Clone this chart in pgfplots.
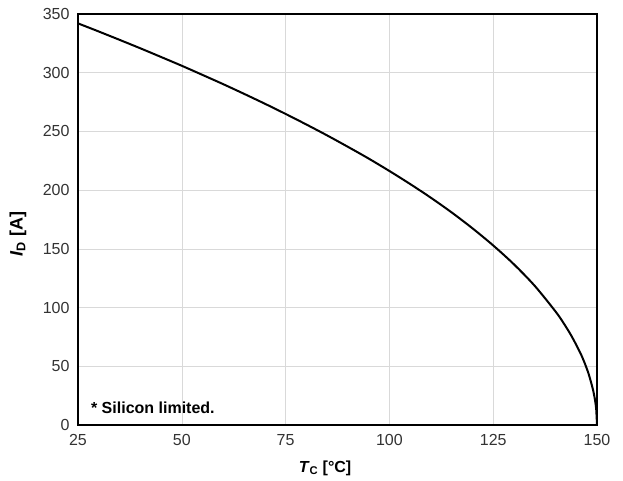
\documentclass[border=0pt]{standalone}
\usepackage{pgfplots}
\pgfplotsset{compat=1.18}
\usepackage{fontspec}
\setmainfont{Liberation Sans}
\begin{document}
\begin{tikzpicture}
\useasboundingbox (-78pt,-56pt) rectangle (545pt,425pt);
\begin{axis}[
  at={(0,0)}, anchor=south west,
  scale only axis,
  width=519pt, height=411pt,
  xmin=25, xmax=150, ymin=0, ymax=350,
  xtick={25,50,...,150}, ytick={0,50,...,350},
  grid=major,
  major grid style={draw=black!15, line width=0.6pt},
  axis line style={line width=2pt},
  tick style={draw=none},
  /pgf/number format/assume math mode=true,
  ticklabel style={font=\fontsize{16}{18}\selectfont, text=black!80},
  xticklabel style={yshift=-6pt},
  yticklabel style={xshift=-5pt},
  xlabel={\textbf{\textit{T}\textsubscript{\upshape C} [°C]}},
  ylabel={\textbf{\textit{I}\textsubscript{\upshape D} [A]}},
  xlabel style={font=\fontsize{16}{18}\selectfont, at={(axis description cs:0.476,0)}, anchor=center, yshift=-43pt},
  ylabel style={font=\fontsize{18}{20}\selectfont, at={(axis description cs:0,0.465)}, anchor=center, yshift=60pt},
  clip=false,
]
\addplot[black, line width=2pt, smooth] coordinates {
(25,342)(30,335.1)(35,328.0)(40,320.8)(45,313.4)(50,305.9)(55,298.1)(60,290.2)
(65,282.0)(70,273.6)(75,264.9)(80,255.9)(85,246.6)(90,236.9)(95,226.9)(100,216.3)
(105,205.2)(110,193.5)(115,181.0)(120,167.5)(125,152.9)(130,136.8)(135,118.5)
(140,96.7)(142,86.5)(144,74.9)(146,61.2)(147,53.0)(148,43.3)(149,30.6)(149.5,21.6)
(149.8,13.7)(150,0)
};
\node[anchor=west, font=\bfseries\fontsize{16}{18}\selectfont] at (axis cs:27.3,15) {* Silicon limited.};
\end{axis}
\end{tikzpicture}
\end{document}
